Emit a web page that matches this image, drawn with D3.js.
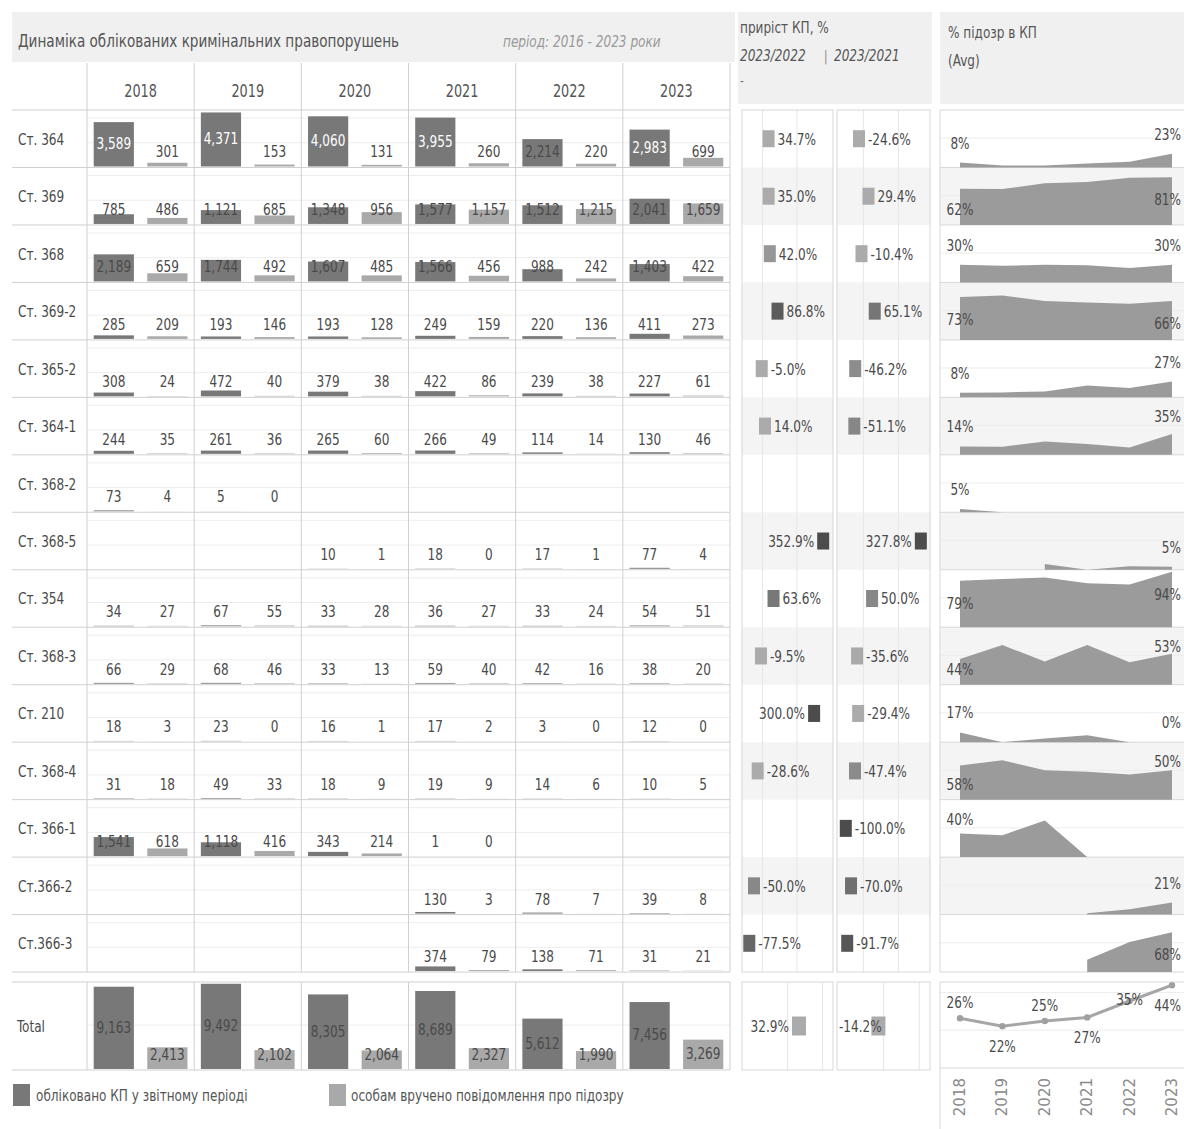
<!DOCTYPE html>
<html>
<head>
<meta charset="utf-8">
<script src="https://cdn.jsdelivr.net/npm/d3@7"></script>
<style>
  body { margin: 0; background: #fff; overflow: hidden; }
  svg { display: block; font-family: "Liberation Sans Narrow", "DejaVu Sans Condensed", "Liberation Sans", sans-serif; }
</style>
</head>
<body>
<svg id="chart" width="1184" height="1129"></svg>
<script>
// ---- data -------------------------------------------------------------
const years = [2018, 2019, 2020, 2021, 2022, 2023];
const articles = ["Ст. 364", "Ст. 369", "Ст. 368", "Ст. 369-2", "Ст. 365-2", "Ст. 364-1", "Ст. 368-2",
  "Ст. 368-5", "Ст. 354", "Ст. 368-3", "Ст. 210", "Ст. 368-4", "Ст. 366-1", "Ст.366-2", "Ст.366-3"];

// registered criminal offences, by article and year (null = no records)
const registered = [
  [3589, 4371, 4060, 3955, 2214, 2983],
  [785, 1121, 1348, 1577, 1512, 2041],
  [2189, 1744, 1607, 1566, 988, 1403],
  [285, 193, 193, 249, 220, 411],
  [308, 472, 379, 422, 239, 227],
  [244, 261, 265, 266, 114, 130],
  [73, 5, null, null, null, null],
  [null, null, 10, 18, 17, 77],
  [34, 67, 33, 36, 33, 54],
  [66, 68, 33, 59, 42, 38],
  [18, 23, 16, 17, 3, 12],
  [31, 49, 18, 19, 14, 10],
  [1541, 1118, 343, 1, null, null],
  [null, null, null, 130, 78, 39],
  [null, null, null, 374, 138, 31]
];

// persons served a notice of suspicion, by article and year
const suspected = [
  [301, 153, 131, 260, 220, 699],
  [486, 685, 956, 1157, 1215, 1659],
  [659, 492, 485, 456, 242, 422],
  [209, 146, 128, 159, 136, 273],
  [24, 40, 38, 86, 38, 61],
  [35, 36, 60, 49, 14, 46],
  [4, 0, null, null, null, null],
  [null, null, 1, 0, 1, 4],
  [27, 55, 28, 27, 24, 51],
  [29, 46, 13, 40, 16, 20],
  [3, 0, 1, 2, 0, 0],
  [18, 33, 9, 9, 6, 5],
  [618, 416, 214, 0, null, null],
  [null, null, null, 3, 7, 8],
  [null, null, null, 79, 71, 21]
];

const totalRegistered = [9163, 9492, 8305, 8689, 5612, 7456];
const totalSuspected = [2413, 2102, 2064, 2327, 1990, 3269];

const seriesNames = ["обліковано КП у звітному періоді", "особам вручено повідомлення про підозру"];
const growthPairs = [[2023, 2022], [2023, 2021]];

// ---- derived measures -------------------------------------------------
const idx = y => years.indexOf(y);
function growth(row, cur, base) {
  const b = row[idx(base)], c = row[idx(cur)];
  if (b == null || b === 0) return null;
  return ((c == null ? 0 : c) / b - 1) * 100;
}
function ratio(reg, sus) {
  return years.map((y, i) => ({ year: y, v: reg[i] == null || reg[i] === 0 ? null : sus[i] / reg[i] * 100 }));
}

// ---- look ---------------------------------------------------------------
const C = {
  dark: "#787878", light: "#a9a9a9", area: "#9b9b9b", text: "#4a4a4a",
  grid: "#ededed", rule: "#d0d0d0", band: "#f0f0f0", shade: "#f4f4f4", box: "#d8d8d8"
};
const fmt = d3.format(",");
const svg = d3.select("#chart");

// narrow set type: each label is compressed horizontally around its anchor point
const NARROW = 0.84;
const narrowWidth = node => node.getComputedTextLength() * NARROW;
function squeeze(sel) {
  sel.each(function () {
    const x = +this.getAttribute("x") || 0, y = +this.getAttribute("y") || 0;
    this.setAttribute("x", 0);
    this.setAttribute("y", 0);
    this.setAttribute("transform", `translate(${x},${y}) scale(${NARROW},1)`);
  });
  return sel;
}

// ---- left table ----------------------------------------------------------
const X0 = 12, X1 = 730;
const xYear = d3.scaleBand().domain(years).range([87, 730]);
const xSer = d3.scaleBand().domain([0, 1]).range([0, xYear.bandwidth()]).paddingInner(0.25).paddingOuter(0.125);
const yRow = d3.scaleBand().domain(articles).range([110, 110 + 15 * 57.47]);
const RH = yRow.bandwidth();
const hRow = d3.scaleLinear().domain([0, 4650]).range([0, RH]);
const TOT_TOP = 982, TOT_BOT = 1070;
const hTot = d3.scaleLinear().domain([0, 9800]).range([0, TOT_BOT - TOT_TOP]);

// title band
svg.append("rect").attr("x", X0).attr("y", 12).attr("width", 723).attr("height", 50).attr("fill", C.band);
svg.append("text").attr("x", 18).attr("y", 47).attr("font-size", 18).attr("fill", "#555")
  .text("Динаміка облікованих кримінальних правопорушень");
svg.append("text").attr("x", 503).attr("y", 47).attr("font-size", 16).attr("font-style", "italic").attr("fill", "#999")
  .text("період: 2016 - 2023 роки");

// year header
svg.append("g").selectAll("text").data(years).join("text")
  .attr("x", d => xYear(d) + xYear.bandwidth() / 2).attr("y", 91)
  .attr("text-anchor", "middle").attr("dominant-baseline", "central")
  .attr("font-size", 17).attr("fill", "#555").text(d => d);

// in-row value gridlines
const grid = svg.append("g");
articles.forEach(a => {
  const base = yRow(a) + RH;
  [2000, 4000].forEach(v => {
    grid.append("line").attr("x1", 87).attr("x2", X1).attr("y1", base - hRow(v)).attr("y2", base - hRow(v))
      .attr("stroke", C.grid);
  });
});
grid.append("line").attr("x1", 87).attr("x2", X1)
  .attr("y1", TOT_BOT - hTot(5000)).attr("y2", TOT_BOT - hTot(5000)).attr("stroke", C.grid);

// row rules
const rules = svg.append("g").attr("stroke", C.rule);
[110, ...articles.map(a => yRow(a) + RH), TOT_TOP, TOT_BOT].forEach(y =>
  rules.append("line").attr("x1", X0).attr("x2", X1).attr("y1", y).attr("y2", y));
[...years.map(y => xYear(y)), X1].forEach(x => {
  rules.append("line").attr("x1", x).attr("x2", x).attr("y1", 63).attr("y2", yRow.range()[1]);
  rules.append("line").attr("x1", x).attr("x2", x).attr("y1", TOT_TOP).attr("y2", TOT_BOT);
});

// row labels
svg.append("g").selectAll("text").data(articles).join("text")
  .attr("x", 18).attr("y", d => yRow(d) + RH / 2).attr("dominant-baseline", "central")
  .attr("font-size", 16).attr("fill", C.text).text(d => d);
svg.append("text").attr("x", 17).attr("y", (TOT_TOP + TOT_BOT) / 2).attr("dominant-baseline", "central")
  .attr("font-size", 16).attr("fill", C.text).text("Total");

// bars
function barCells(rowIndex) {
  const cells = [];
  years.forEach((y, i) => {
    [registered[rowIndex][i], suspected[rowIndex][i]].forEach((v, s) => {
      if (v != null) cells.push({ year: y, s, v });
    });
  });
  return cells;
}
const bars = svg.append("g");
articles.forEach((a, r) => {
  const base = yRow(a) + RH - 1;
  const g = bars.append("g");
  const cells = barCells(r);
  g.selectAll("rect").data(cells).join("rect")
    .attr("x", d => xYear(d.year) + xSer(d.s)).attr("width", xSer.bandwidth())
    .attr("y", d => base - hRow(d.v)).attr("height", d => hRow(d.v))
    .attr("fill", d => d.s === 0 ? C.dark : C.light);
  g.selectAll("text").data(cells).join("text")
    .attr("x", d => xYear(d.year) + xSer(d.s) + xSer.bandwidth() / 2)
    .attr("y", d => base - Math.max(15, hRow(d.v) / 2 + 1))
    .attr("text-anchor", "middle").attr("dominant-baseline", "central")
    .attr("font-size", 16).attr("fill", d => hRow(d.v) > 30 ? "#fff" : C.text)
    .text(d => fmt(d.v));
});

// total bars
const totCells = [];
years.forEach((y, i) => {
  totCells.push({ year: y, s: 0, v: totalRegistered[i] });
  totCells.push({ year: y, s: 1, v: totalSuspected[i] });
});
const tg = svg.append("g");
tg.selectAll("rect").data(totCells).join("rect")
  .attr("x", d => xYear(d.year) + xSer(d.s)).attr("width", xSer.bandwidth())
  .attr("y", d => TOT_BOT - 1 - hTot(d.v)).attr("height", d => hTot(d.v))
  .attr("fill", d => d.s === 0 ? C.dark : C.light);
tg.selectAll("text").data(totCells).join("text")
  .attr("x", d => xYear(d.year) + xSer(d.s) + xSer.bandwidth() / 2)
  .attr("y", d => TOT_BOT - 1 - Math.max(15, hTot(d.v) / 2 + 1))
  .attr("text-anchor", "middle").attr("dominant-baseline", "central")
  .attr("font-size", 16).attr("fill", C.text).text(d => fmt(d.v));

// legend
const lg = svg.append("g");
[[13, 36], [329, 351]].forEach(([sx, tx], i) => {
  lg.append("rect").attr("x", sx).attr("y", 1084).attr("width", 17).attr("height", 22)
    .attr("fill", i === 0 ? C.dark : C.light);
  lg.append("text").attr("x", tx).attr("y", 1095).attr("dominant-baseline", "central")
    .attr("font-size", 16).attr("fill", "#555").text(seriesNames[i]);
});

// ---- growth columns -------------------------------------------------------
svg.append("rect").attr("x", 738).attr("y", 12).attr("width", 194).attr("height", 92).attr("fill", C.band);
svg.append("text").attr("x", 740).attr("y", 33).attr("font-size", 16).attr("fill", "#555").text("приріст КП, %");
svg.append("text").attr("x", 740).attr("y", 61).attr("font-size", 16).attr("font-style", "italic").attr("fill", "#555")
  .text(`${growthPairs[0][0]}/${growthPairs[0][1]}`);
svg.append("text").attr("x", 824).attr("y", 61).attr("font-size", 14).attr("fill", "#888").text("|");
svg.append("text").attr("x", 834).attr("y", 61).attr("font-size", 16).attr("font-style", "italic").attr("fill", "#555")
  .text(`${growthPairs[1][0]}/${growthPairs[1][1]}`);
svg.append("text").attr("x", 740).attr("y", 86).attr("font-size", 14).attr("fill", "#777").text("-");

// everything drawn so far uses the narrow set
squeeze(svg.selectAll("text"));

const boxes = [
  { x0: 742, x1: 833, dom: [-120, 410] },
  { x0: 837, x1: 930, dom: [-150, 380] }
];
const greyFor = d3.scaleLinear().domain([35, 45, 100]).range(["#ababab", "#8e8e8e", "#4c4c4c"]).clamp(true);
const gfmt = v => v.toFixed(1) + "%";
const RT = yRow.range()[0], RB = yRow.range()[1];

boxes.forEach((b, k) => {
  const x = d3.scaleLinear().domain(b.dom).range([b.x0, b.x1]);
  const g = svg.append("g");
  articles.forEach((a, r) => {
    if (r % 2 === 1) g.append("rect").attr("x", b.x0).attr("y", yRow(a)).attr("width", b.x1 - b.x0).attr("height", RH).attr("fill", C.shade);
  });
  [0, 200].forEach(v => g.append("line").attr("x1", x(v)).attr("x2", x(v)).attr("y1", RT).attr("y2", RB).attr("stroke", "#e6e6e6"));
  g.append("rect").attr("x", b.x0).attr("y", RT).attr("width", b.x1 - b.x0).attr("height", RB - RT)
    .attr("fill", "none").attr("stroke", C.box);
  const pts = articles.map((a, r) => ({ a, v: growth(registered[r], growthPairs[k][0], growthPairs[k][1]) }))
    .filter(d => d.v != null);
  pts.forEach(d => {
    const cx = x(d.v), cy = yRow(d.a) + RH / 2;
    g.append("rect").attr("x", cx - 6).attr("y", cy - 8.5).attr("width", 12).attr("height", 17).attr("fill", greyFor(Math.abs(d.v)));
    const left = d.v > 250;
    squeeze(g.append("text").attr("x", left ? cx - 9 : cx + 9).attr("y", cy).attr("text-anchor", left ? "end" : "start")
      .attr("dominant-baseline", "central").attr("font-size", 16).attr("fill", C.text).text(gfmt(d.v)));
  });

  // total
  const xt = d3.scaleLinear().domain([-130, 130]).range([b.x0, b.x1]);
  const tgG = svg.append("g");
  [0, 100].forEach(v => tgG.append("line").attr("x1", xt(v)).attr("x2", xt(v)).attr("y1", TOT_TOP).attr("y2", TOT_BOT).attr("stroke", "#e6e6e6"));
  tgG.append("rect").attr("x", b.x0).attr("y", TOT_TOP).attr("width", b.x1 - b.x0).attr("height", TOT_BOT - TOT_TOP)
    .attr("fill", "none").attr("stroke", C.box);
  const tv = growth(totalRegistered, growthPairs[k][0], growthPairs[k][1]);
  const cx = xt(tv), cy = (TOT_TOP + TOT_BOT) / 2;
  tgG.append("rect").attr("x", cx - 7).attr("y", cy - 9.5).attr("width", 14).attr("height", 19).attr("fill", greyFor(Math.abs(tv)));
  const t = tgG.append("text").attr("y", cy).attr("dominant-baseline", "central").attr("font-size", 16)
    .attr("fill", C.text).text(gfmt(tv));
  const w = narrowWidth(t.node());
  t.attr("x", Math.max(b.x0 + 2, cx - 10 - w));
  squeeze(t);
});

// ---- suspicion share --------------------------------------------------------
const PX0 = 940, PX1 = 1184;
svg.append("rect").attr("x", PX0).attr("y", 12).attr("width", 250).attr("height", 92).attr("fill", C.band);
squeeze(svg.append("text").attr("x", 948).attr("y", 38).attr("font-size", 16).attr("fill", "#555").text("% підозр в КП"));
squeeze(svg.append("text").attr("x", 948).attr("y", 66).attr("font-size", 16).attr("fill", "#555").text("(Avg)"));

const xR = d3.scalePoint().domain(years).range([960, 1172]);
const yPct = d3.scaleLinear().domain([0, 98]).range([0, RH]);
const pg = svg.append("g");
articles.forEach((a, r) => {
  if (r % 2 === 1) pg.append("rect").attr("x", PX0).attr("y", yRow(a)).attr("width", PX1 - PX0).attr("height", RH).attr("fill", C.shade);
});
// point label; near the right edge it is right-aligned so it stays inside
function endLabel(g, x, y, str) {
  const t = g.append("text").attr("y", y).attr("text-anchor", "middle")
    .attr("dominant-baseline", "central").attr("font-size", 16).attr("fill", C.text).text(str);
  const w = narrowWidth(t.node());
  if (x + w / 2 > PX1 - 3) t.attr("text-anchor", "end").attr("x", PX1 - 3);
  else t.attr("x", x);
  return squeeze(t);
}
articles.forEach((a, r) => {
  const top = yRow(a), base = top + RH;
  pg.append("line").attr("x1", PX0).attr("x2", PX1).attr("y1", base - yPct(50)).attr("y2", base - yPct(50)).attr("stroke", C.grid);
  pg.append("line").attr("x1", PX0).attr("x2", PX1).attr("y1", base).attr("y2", base).attr("stroke", C.box);
  const series = ratio(registered[r], suspected[r]);
  const area = d3.area().defined(d => d.v != null).x(d => xR(d.year)).y0(base).y1(d => base - yPct(d.v));
  pg.append("path").attr("d", area(series)).attr("fill", C.area);
  [0, series.length - 1].forEach(i => {
    const d = series[i];
    if (d.v == null) return;
    const nb = series[i === 0 ? 1 : i - 1].v;
    const py = base - yPct(d.v);
    const below = d.v >= 55 || (i === 0 && nb != null && nb - d.v > 10);
    const ly = below ? Math.min(py + 22, base - 16) : Math.max(py - 20, top + 19);
    endLabel(pg, xR(d.year), ly, Math.round(d.v) + "%");
  });
});
pg.append("line").attr("x1", PX0).attr("x2", PX1).attr("y1", RT).attr("y2", RT).attr("stroke", C.box);
pg.append("line").attr("x1", PX0).attr("x2", PX0).attr("y1", RT).attr("y2", RB).attr("stroke", C.box);

// total share line
const LB = 1068;
const yL = d3.scaleLinear().domain([0, 45]).range([LB, 983]);
const totShare = ratio(totalRegistered, totalSuspected);
const lg2 = svg.append("g");
[20, 40].forEach(v => lg2.append("line").attr("x1", PX0).attr("x2", PX1).attr("y1", yL(v)).attr("y2", yL(v)).attr("stroke", C.grid));
lg2.append("line").attr("x1", PX0).attr("x2", PX1).attr("y1", TOT_TOP).attr("y2", TOT_TOP).attr("stroke", C.box);
lg2.append("line").attr("x1", PX0).attr("x2", PX1).attr("y1", LB).attr("y2", LB).attr("stroke", C.box);
lg2.append("line").attr("x1", PX0).attr("x2", PX0).attr("y1", TOT_TOP).attr("y2", 1129).attr("stroke", C.box);
lg2.append("path").attr("d", d3.line().x(d => xR(d.year)).y(d => yL(d.v))(totShare))
  .attr("fill", "none").attr("stroke", "#a6a6a6").attr("stroke-width", 3);
lg2.selectAll("circle").data(totShare).join("circle")
  .attr("cx", d => xR(d.year)).attr("cy", d => yL(d.v)).attr("r", 3.2).attr("fill", "#a0a0a0");
totShare.forEach((d, i) => {
  const y = i % 2 === 0 ? Math.max(yL(d.v) - 16, TOT_TOP + 17) : yL(d.v) + 20;
  endLabel(lg2, xR(d.year), y, Math.round(d.v) + "%");
});
lg2.selectAll("text.y").data(years).join("text").attr("class", "y")
  .attr("transform", d => `translate(${xR(d)},1078) rotate(-90)`)
  .attr("text-anchor", "end").attr("dominant-baseline", "central")
  .attr("font-family", "DejaVu Sans, sans-serif").attr("font-size", 15).attr("fill", "#8a8a8a").text(d => d);
</script>
</body>
</html>
